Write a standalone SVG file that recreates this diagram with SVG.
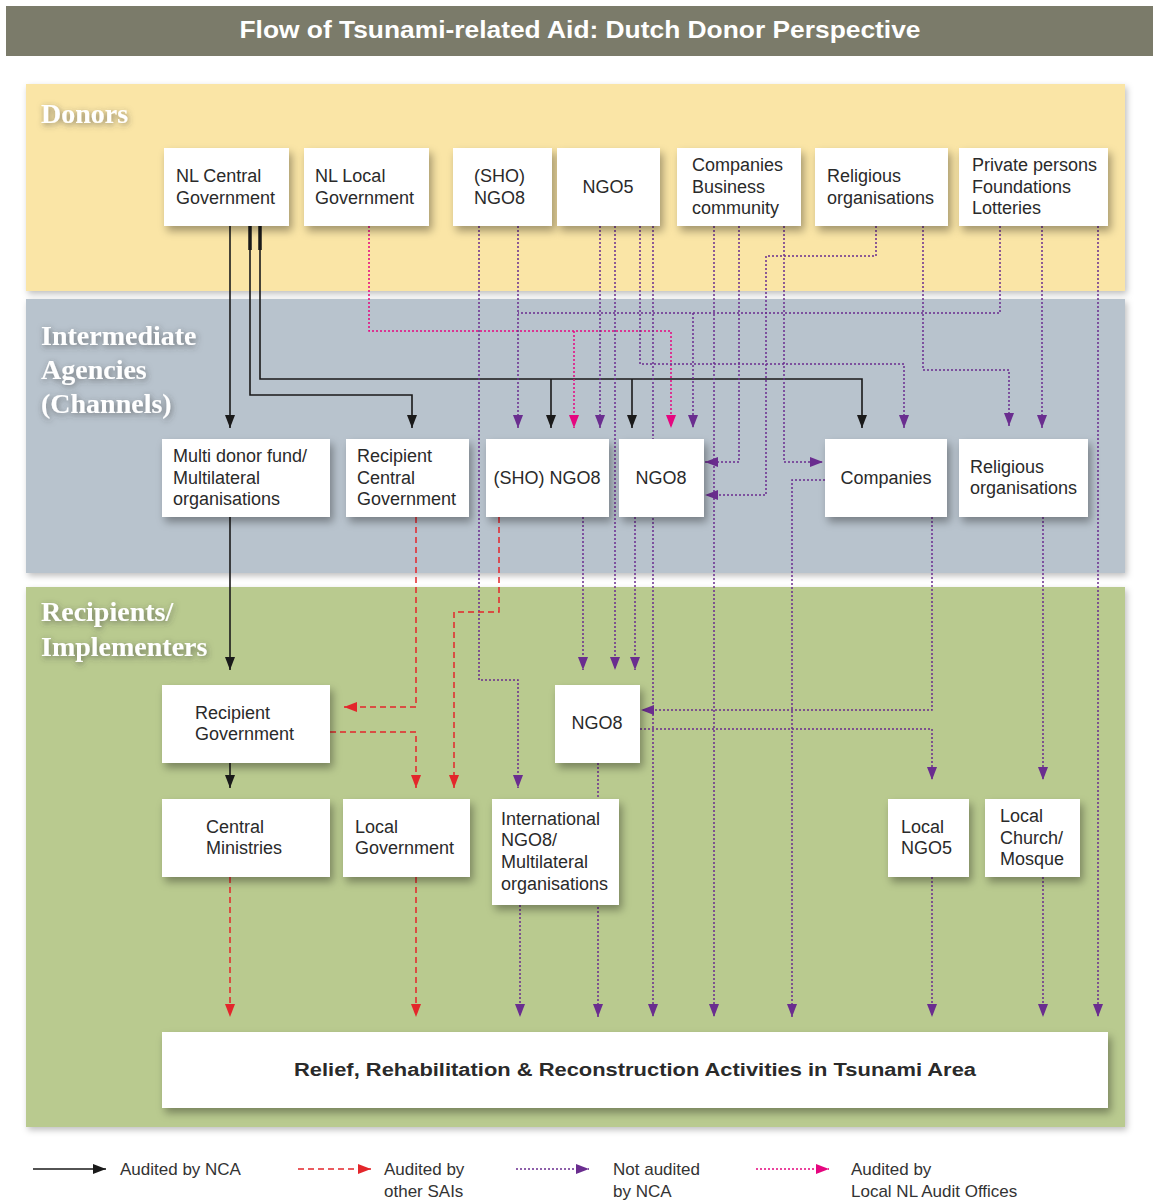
<svg xmlns="http://www.w3.org/2000/svg" width="1153" height="1203" viewBox="0 0 1153 1203">
<defs>
<style>
.band-title{font-family:"Liberation Serif",serif;font-weight:bold;font-size:28px;fill:#ffffff;filter:url(#glow)}
.node rect{fill:#ffffff;filter:url(#shadow)}
.node text{font-family:"Liberation Sans",Arial,sans-serif;font-size:18px;fill:#2a2a2a}
.blk{fill:none;stroke:#1a1a1a;stroke-width:1.6;marker-end:url(#ab)}
.red{fill:none;stroke:#e3262b;stroke-width:1.5;stroke-dasharray:6 4;marker-end:url(#ar)}
.pur{fill:none;stroke:#6a2d8f;stroke-width:1.5;stroke-dasharray:2 2;marker-end:url(#ap)}
.pnk{fill:none;stroke:#e5067f;stroke-width:1.5;stroke-dasharray:2 2;marker-end:url(#ak)}
.nomark{marker-end:none}
.legend text{font-family:"Liberation Sans",Arial,sans-serif;font-size:17px;fill:#333333}
</style>
<filter id="shadow" x="-20%" y="-20%" width="150%" height="160%">
<feDropShadow dx="3" dy="5" stdDeviation="4" flood-color="#000000" flood-opacity="0.35"/>
</filter>
<filter id="bshadow" x="-5%" y="-5%" width="110%" height="115%">
<feDropShadow dx="2" dy="3" stdDeviation="3" flood-color="#000000" flood-opacity="0.25"/>
</filter>
<filter id="glow" x="-20%" y="-30%" width="140%" height="160%">
<feDropShadow dx="1" dy="2" stdDeviation="3" flood-color="#3a3a3a" flood-opacity="0.6"/>
</filter>
<marker id="ab" markerUnits="userSpaceOnUse" markerWidth="13" markerHeight="10" refX="13" refY="5" orient="auto"><path d="M0,0 L13,5 L0,10 Z" fill="#1a1a1a"/></marker>
<marker id="ar" markerUnits="userSpaceOnUse" markerWidth="13" markerHeight="10" refX="13" refY="5" orient="auto"><path d="M0,0 L13,5 L0,10 Z" fill="#e3262b"/></marker>
<marker id="ap" markerUnits="userSpaceOnUse" markerWidth="13" markerHeight="10" refX="13" refY="5" orient="auto"><path d="M0,0 L13,5 L0,10 Z" fill="#6a2d8f"/></marker>
<marker id="ak" markerUnits="userSpaceOnUse" markerWidth="13" markerHeight="10" refX="13" refY="5" orient="auto"><path d="M0,0 L13,5 L0,10 Z" fill="#e5067f"/></marker>
</defs>
<rect x="0" y="0" width="1153" height="1203" fill="#ffffff"/>
<!-- title bar -->
<rect x="6" y="6" width="1147" height="50" fill="#7b7b6a"/>
<text x="580" y="38" text-anchor="middle" font-family="Liberation Sans,Arial,sans-serif" font-weight="bold" font-size="24" fill="#ffffff" textLength="681" lengthAdjust="spacingAndGlyphs">Flow of Tsunami-related Aid: Dutch Donor Perspective</text>
<!-- bands -->
<g id="bands">
<rect x="26" y="84" width="1099" height="207" fill="#fae5a6" filter="url(#bshadow)"/>
<rect x="26" y="299" width="1099" height="274" fill="#b8c3cd" filter="url(#bshadow)"/>
<rect x="26" y="587" width="1099" height="540" fill="#b9ca8f" filter="url(#bshadow)"/>
<text class="band-title" x="41" y="123">Donors</text>
<text class="band-title" x="41" y="345">Intermediate</text>
<text class="band-title" x="41" y="379">Agencies</text>
<text class="band-title" x="41" y="413">(Channels)</text>
<text class="band-title" x="41" y="621">Recipients/</text>
<text class="band-title" x="41" y="656">Implementers</text>
</g>
<!-- connectors -->
<g id="connectors">
<path class="blk" d="M230,226 V428"/>
<path class="blk" d="M250,226 V395 H412 V428"/>
<path class="blk" d="M260,226 V379 H862 V428"/>
<path class="blk" d="M551,379 V428"/>
<path class="blk" d="M632,379 V428"/>
<path class="blk" d="M230,517 V670"/>
<path class="blk" d="M230,763 V788"/>
<path d="M250,226 V250 M260,226 V250" stroke="#1a1a1a" stroke-width="3.5" fill="none"/>
<path class="pnk" d="M369,226 V331 H671 V428"/>
<path class="pnk" d="M574,331 V428"/>
<path class="pur" d="M479,226 V680 H518 V788"/>
<path class="pur" d="M518,226 V428"/>
<path class="pur nomark" d="M1000,226 V313 H518"/>
<path class="pur" d="M693,313 V428"/>
<path class="pur" d="M600,226 V428"/>
<path class="pur" d="M615,226 V670"/>
<path class="pur" d="M640,226 V364 H904 V428"/>
<path class="pur" d="M653,226 V1017"/>
<path class="pur" d="M714,226 V1017"/>
<path class="pur" d="M739,226 V462 H705"/>
<path class="pur" d="M876,226 V256 H766 V495 H705"/>
<path class="pur" d="M784,226 V462 H823"/>
<path class="pur" d="M825,480 H792 V1017"/>
<path class="pur" d="M923,226 V370 H1009 V426"/>
<path class="pur" d="M1042,226 V428"/>
<path class="pur" d="M1098,226 V1017"/>
<path class="pur" d="M583,517 V670"/>
<path class="pur" d="M635,517 V670"/>
<path class="pur" d="M932,517 V710 H641"/>
<path class="pur" d="M640,729 H932 V780"/>
<path class="pur" d="M1043,517 V780"/>
<path class="pur" d="M598,763 V1017"/>
<path class="pur" d="M520,905 V1017"/>
<path class="pur" d="M932,877 V1017"/>
<path class="pur" d="M1043,877 V1017"/>
<path class="red" d="M416,517 V707 H344"/>
<path class="red" d="M499,517 V612 H454 V788"/>
<path class="red" d="M330,732 H416 V788"/>
<path class="red" d="M230,877 V1017"/>
<path class="red" d="M416,877 V1017"/>
</g>
<!-- donor nodes -->
<g id="d-nlcentral" class="node"><rect x="164" y="148" width="125" height="78"/><text x="176" y="182">NL Central</text><text x="176" y="204">Government</text></g>
<g id="d-nllocal" class="node"><rect x="304" y="148" width="125" height="78"/><text x="315" y="182">NL Local</text><text x="315" y="204">Government</text></g>
<g id="d-sho" class="node"><rect x="453" y="148" width="99" height="78"/><text x="474" y="182">(SHO)</text><text x="474" y="204">NGO8</text></g>
<g id="d-ngo5" class="node"><rect x="557" y="148" width="103" height="78"/><text x="608" y="193" text-anchor="middle">NGO5</text></g>
<g id="d-companies" class="node"><rect x="677" y="148" width="124" height="78"/><text x="692" y="171">Companies</text><text x="692" y="193">Business</text><text x="692" y="214">community</text></g>
<g id="d-religious" class="node"><rect x="815" y="148" width="133" height="78"/><text x="827" y="182">Religious</text><text x="827" y="204">organisations</text></g>
<g id="d-private" class="node"><rect x="959" y="148" width="149" height="78"/><text x="972" y="171">Private persons</text><text x="972" y="193">Foundations</text><text x="972" y="214">Lotteries</text></g>
<!-- intermediate nodes -->
<g id="i-multidonor" class="node"><rect x="162" y="439" width="168" height="78"/><text x="173" y="462">Multi donor fund/</text><text x="173" y="484">Multilateral</text><text x="173" y="505">organisations</text></g>
<g id="i-recipcentral" class="node"><rect x="346" y="439" width="123" height="78"/><text x="357" y="462">Recipient</text><text x="357" y="484">Central</text><text x="357" y="505">Government</text></g>
<g id="i-sho" class="node"><rect x="486" y="439" width="123" height="78"/><text x="547" y="484" text-anchor="middle">(SHO) NGO8</text></g>
<g id="i-ngo8" class="node"><rect x="619" y="439" width="85" height="78"/><text x="661" y="484" text-anchor="middle">NGO8</text></g>
<g id="i-companies" class="node"><rect x="825" y="439" width="122" height="78"/><text x="886" y="484" text-anchor="middle">Companies</text></g>
<g id="i-religious" class="node"><rect x="959" y="439" width="129" height="78"/><text x="970" y="473">Religious</text><text x="970" y="494">organisations</text></g>
<!-- recipient nodes -->
<g id="r-recipgov" class="node"><rect x="162" y="685" width="168" height="78"/><text x="195" y="719">Recipient</text><text x="195" y="740">Government</text></g>
<g id="r-ngo8" class="node"><rect x="555" y="685" width="85" height="78"/><text x="597" y="729" text-anchor="middle">NGO8</text></g>
<g id="r-centralmin" class="node"><rect x="162" y="799" width="168" height="78"/><text x="206" y="833">Central</text><text x="206" y="854">Ministries</text></g>
<g id="r-localgov" class="node"><rect x="343" y="799" width="127" height="78"/><text x="355" y="833">Local</text><text x="355" y="854">Government</text></g>
<g id="r-intngo" class="node"><rect x="492" y="799" width="127" height="106"/><text x="501" y="825">International</text><text x="501" y="846">NGO8/</text><text x="501" y="868">Multilateral</text><text x="501" y="890">organisations</text></g>
<g id="r-localngo5" class="node"><rect x="888" y="799" width="81" height="78"/><text x="901" y="833">Local</text><text x="901" y="854">NGO5</text></g>
<g id="r-church" class="node"><rect x="985" y="799" width="95" height="78"/><text x="1000" y="822">Local</text><text x="1000" y="844">Church/</text><text x="1000" y="865">Mosque</text></g>
<g id="r-relief" class="node"><rect x="162" y="1032" width="946" height="76"/><text x="635" y="1076" text-anchor="middle" font-weight="bold" font-size="20" fill="#1a1a1a" textLength="682" lengthAdjust="spacingAndGlyphs">Relief, Rehabilitation &amp; Reconstruction Activities in Tsunami Area</text></g>
<!-- legend -->
<g id="legend" class="legend">
<path class="blk" d="M33,1169 H106"/>
<text x="120" y="1175">Audited by NCA</text>
<path class="red" d="M298,1169 H371"/>
<text x="384" y="1175">Audited by</text><text x="384" y="1197">other SAIs</text>
<path class="pur" d="M516,1169 H589"/>
<text x="613" y="1175">Not audited</text><text x="613" y="1197">by NCA</text>
<path class="pnk" d="M756,1169 H829"/>
<text x="851" y="1175">Audited by</text><text x="851" y="1197">Local NL Audit Offices</text>
</g>
</svg>
